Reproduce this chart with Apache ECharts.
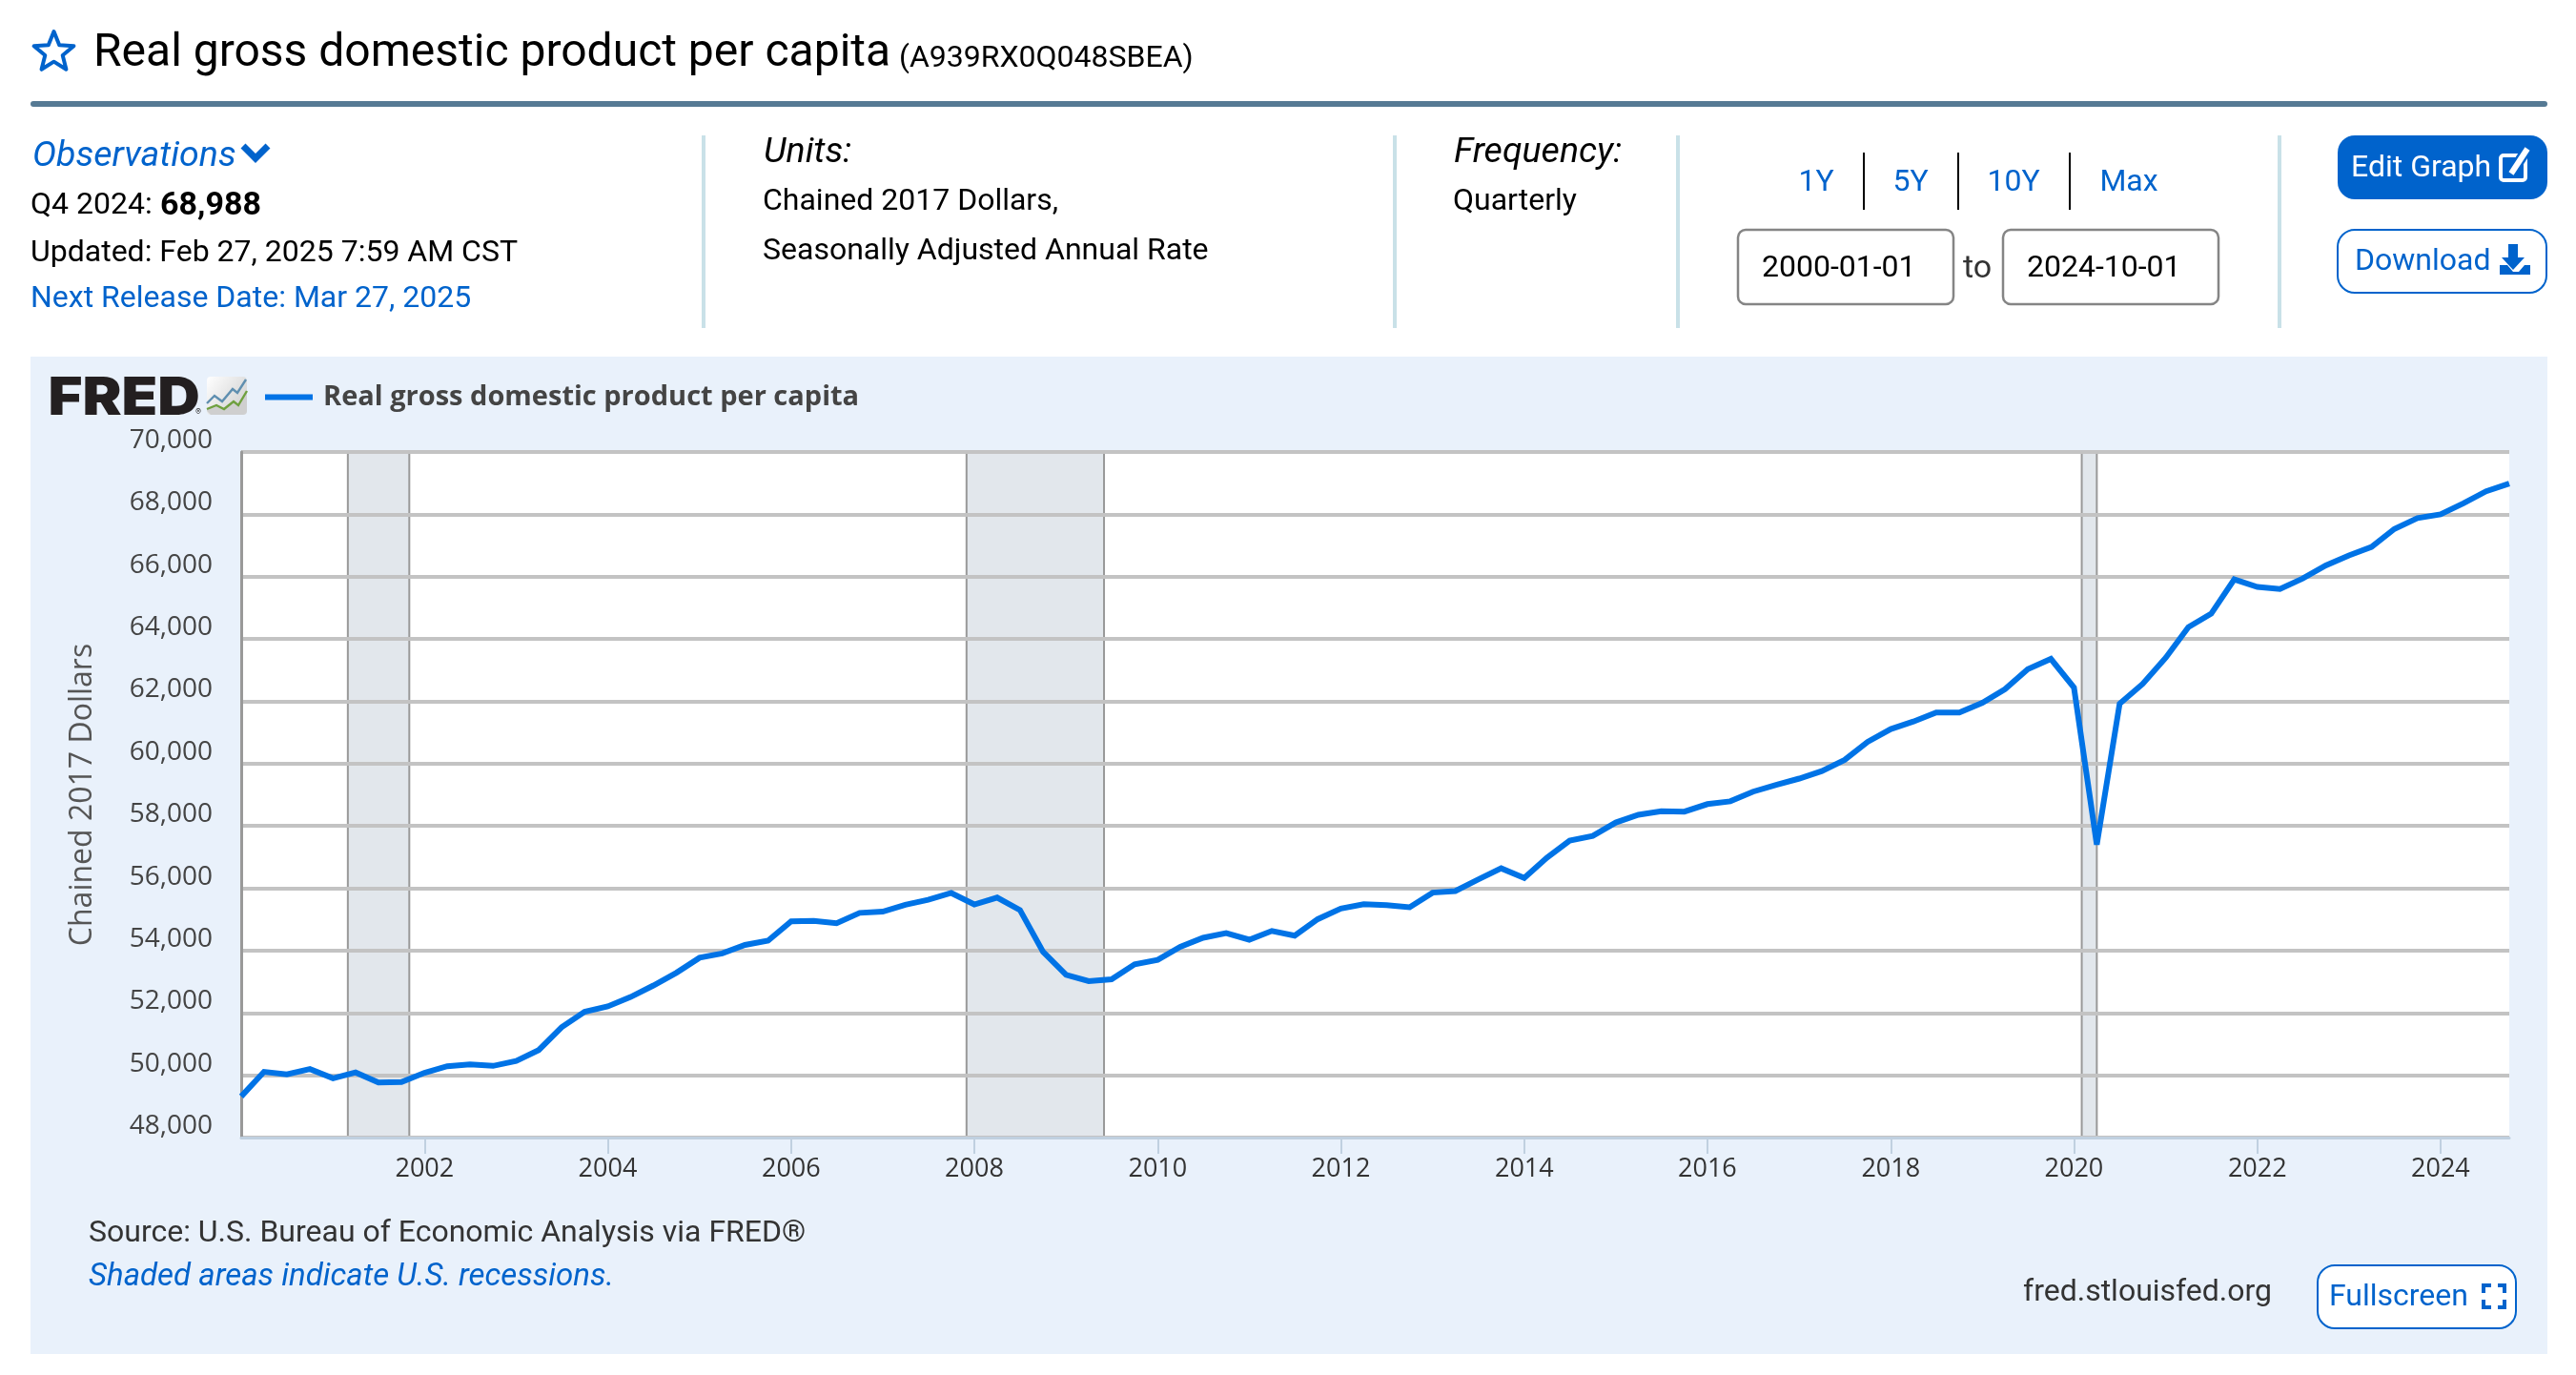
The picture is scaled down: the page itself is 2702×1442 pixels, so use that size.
<!DOCTYPE html>
<html><head><meta charset="utf-8">
<style>html,body{margin:0;padding:0;background:#fff}#c{width:2702px;height:1442px}</style>
<script src="https://cdn.jsdelivr.net/npm/echarts@6/dist/echarts.min.js"></script>
</head><body><div id="c"></div>
<script>
const seriesName = 'Real gross domestic product per capita';
const yAxisName = 'Chained 2017 Dollars';
const startYear = 2000;
// quarterly values 2000 Q1 .. 2024 Q4
const gdpPerCapita = [
49320,50110,50030,50200,49900,50090,49770,49780,50080,50290,50350,50300,50460,50810,51540,52040,52210,52510,52880,53290,
53770,53910,54180,54320,54940,54950,54880,55210,55250,55470,55630,55850,55480,55700,55300,53960,53220,53020,53080,53560,
53700,54120,54410,54560,54350,54630,54480,55010,55350,55490,55460,55390,55860,55910,56280,56640,56330,56980,57530,57680,
58110,58360,58470,58460,58700,58790,59100,59320,59520,59760,60120,60700,61110,61350,61640,61640,61950,62390,63030,63360,
62440,57400,61920,62560,63400,64380,64810,65910,65670,65600,65940,66360,66680,66950,67530,67880,68000,68350,68740,68988];
const recessions = [['2001-03-01','2001-11-01'],['2007-12-01','2009-06-01'],['2020-02-01','2020-04-01']];
const xTickYears = [2002,2004,2006,2008,2010,2012,2014,2016,2018,2020,2022,2024];
const yMin = 48000, yMax = 70000, yStep = 2000;
const titleText = 'Real gross domestic product per capita', seriesId = '(A939RX0Q048SBEA)';

const utc = s => { const [y,m,d] = s.split('-').map(Number); return Date.UTC(y,m-1,d); };
const quarterDate = i => Date.UTC(startYear + Math.floor(i/4), (i%4)*3, 1);
const points = gdpPerCapita.map((v,i)=>[quarterDate(i),v]);
const xTicks = xTickYears.map(y=>Date.UTC(y,0,1));

const BLUE='#0063cc', RF='Roboto', OS='"Open Sans"';
const txt=(x,y,t,size,fill,extra={})=>({type:'text',x,y,z:5,scaleX:extra.sx||1,style:{text:t,font:`${extra.fs||'normal'} ${extra.w||400} ${size}px ${extra.f||RF}`,fill,textAlign:extra.a||'left',textVerticalAlign:'middle',verticalAlign:'middle'}});
const rect=(x,y,w,h,fill,o={})=>({type:'rect',z:o.z===undefined?2:o.z,shape:{x,y,width:w,height:h,r:o.r||0},style:{fill,stroke:o.s||null,lineWidth:o.lw||0}});
const poly=(pts,stroke,lw,o={})=>({type:'polyline',z:6,shape:{points:pts},style:{stroke,lineWidth:lw,fill:null,lineCap:o.cap||'butt',lineJoin:o.join||'miter'}});
const fillPoly=(pts,fill)=>({type:'polygon',z:6,shape:{points:pts},style:{fill}});
const star=(cx,cy,R)=>{const p=[];for(let i=0;i<10;i++){const r=i%2?R*0.44:R,a=-Math.PI/2+i*Math.PI/5;p.push([cx+r*Math.cos(a),cy+r*Math.sin(a)]);}return p;};

const graphics=[
 rect(32,374,2640,1046,'#e9f1fb',{z:-100}),
 // header
 {type:'polygon',z:6,shape:{points:star(56.5,55,22)},style:{fill:'none',stroke:BLUE,lineWidth:4,lineJoin:'round'}},
 txt(98,57,titleText,48,'#000'),
 txt(943,62,seriesId,32,'#000'),
 rect(32,106,2640,6,'#567a94',{r:3}),
 // observations
 txt(34,165,'Observations',37.5,BLUE,{fs:'italic'}),
 poly([[255,153],[268,166],[281,153]],BLUE,7),
 txt(32,216,'Q4 2024:',32,'#000'),
 txt(168,216,'68,988',34,'#000',{w:700}),
 txt(32,266,'Updated: Feb 27, 2025 7:59 AM CST',32,'#000'),
 txt(32,314,'Next Release Date: Mar 27, 2025',32,BLUE),
 rect(736,142,4,202,'#c9e1e8'),
 txt(801,161,'Units:',37.5,'#000',{fs:'italic'}),
 txt(800,212,'Chained 2017 Dollars,',32,'#000'),
 txt(800,264,'Seasonally Adjusted Annual Rate',32,'#000'),
 rect(1461,142,4,202,'#c9e1e8'),
 txt(1525,161,'Frequency:',37.5,'#000',{fs:'italic'}),
 txt(1524,212,'Quarterly',32,'#000'),
 rect(1758,142,4,202,'#c9e1e8'),
 txt(1905,192,'1Y',32,BLUE,{a:'center'}),
 rect(1954,160,2,60,'#000'),
 txt(2004,192,'5Y',32,BLUE,{a:'center'}),
 rect(2053,160,2,60,'#000'),
 txt(2112,192,'10Y',32,BLUE,{a:'center'}),
 rect(2170,160,2,60,'#000'),
 txt(2233,192,'Max',32,BLUE,{a:'center'}),
 rect(1823,241,226,78,'#fff',{s:'#858585',lw:2.5,r:8}),
 txt(1848,282,'2000-01-01',32,'#000'),
 txt(2059,282,'to',34,'#333'),
 rect(2101,241,226,78,'#fff',{s:'#858585',lw:2.5,r:8}),
 txt(2126,282,'2024-10-01',32,'#000'),
 rect(2389,142,4,202,'#c9e1e8'),
 rect(2452,142,220,67,BLUE,{r:18}),
 txt(2466,177,'Edit Graph',32,'#fff'),
 rect(2623,163,26,26,'none',{s:'#fff',lw:4,r:3}),
 poly([[2634,182],[2651,156]],BLUE,11),
 poly([[2634,182],[2651,156]],'#fff',6),
 rect(2452,241,219,66,'#fff',{s:BLUE,lw:2,r:18}),
 txt(2470,275,'Download',32,BLUE),
 fillPoly([[2631,256],[2641,256],[2641,270],[2648,270],[2636,283],[2624,270],[2631,270]],BLUE),
 fillPoly([[2622,278],[2630,278],[2636,285],[2642,285],[2648,278],[2654,278],[2654,288],[2622,288]],BLUE),
 // logo
 txt(50.5,418,'FRED',55,'#231f20',{w:900,f:'Inter',sx:1.12}),
 txt(205,432,'®',9,'#333',{f:'Inter'}),
 {type:'rect',z:2,shape:{x:217,y:395,width:42,height:40,r:4},style:{fill:new echarts.graphic.LinearGradient(0,0,1,0.8,[{offset:0,color:'#ffffff'},{offset:1,color:'#d0d0d0'}])}},
 fillPoly([[217,429],[227,425],[235,429],[245,421],[250,425],[259,410],[259,431],[255,435],[221,435],[217,431]],'#cfcfcf'),
 poly([[217,429],[227,425],[235,429],[245,421],[250,425],[259,410]],'#6fa03f',2.4),
 poly([[217,423],[225,415],[233,421],[244,408],[249,412],[258,398]],'#5f8fb0',2.4),
 // footer
 txt(93,1294,'Source: U.S. Bureau of Economic Analysis via FRED®',32,'#333'),
 txt(93,1340,'Shaded areas indicate U.S. recessions.',33,BLUE,{fs:'italic'}),
 txt(2122,1356,'fred.stlouisfed.org',32,'#333'),
 rect(2431,1327,208,66,'#fff',{s:BLUE,lw:2,r:18}),
 txt(2443,1361,'Fullscreen',32,BLUE),
 poly([[2605,1356],[2605,1348],[2613,1348]],BLUE,4),poly([[2620,1348],[2627,1348],[2627,1356]],BLUE,4),
 poly([[2605,1363],[2605,1371],[2613,1371]],BLUE,4),poly([[2620,1371],[2627,1371],[2627,1363]],BLUE,4),
];

const chart=echarts.init(document.getElementById('c'),null,{renderer:'canvas',width:2702,height:1442});
chart.setOption({
 useUTC:true,animation:false,backgroundColor:'#fff',
 textStyle:{fontFamily:OS},
 grid:{show:true,z:-50,left:253,right:70,top:474,bottom:249,backgroundColor:'#fff',borderWidth:0,containLabel:false},
 legend:{show:true,left:278,top:402,itemWidth:50,itemHeight:6,itemGap:0,icon:'rect',padding:0,
   textStyle:{fontFamily:OS,fontWeight:700,fontSize:29,color:'#444',padding:[3,0,0,6]},data:[seriesName]},
 xAxis:{type:'value',min:quarterDate(0),max:quarterDate(99),
   splitLine:{show:false},
   axisLine:{show:true,onZero:false,lineStyle:{color:'#c0d0e0',width:3}},
   axisTick:{show:true,customValues:xTicks,length:17,lineStyle:{color:'#c0d0e0',width:2}},
   axisLabel:{customValues:xTicks,margin:20,fontSize:27,color:'#333',fontFamily:OS,hideOverlap:false,showMinLabel:true,showMaxLabel:true,
     formatter:v=>String(new Date(v).getUTCFullYear())}},
 yAxis:{type:'value',min:yMin,max:yMax,interval:yStep,name:yAxisName,nameLocation:'middle',nameGap:150,
   nameTextStyle:{fontFamily:OS,fontSize:32,color:'#555'},
   axisLine:{show:true,lineStyle:{color:'#999',width:3}},axisTick:{show:false},
   splitLine:{show:true,lineStyle:{color:'#c3c3c3',width:4}},
   axisLabel:{margin:30,fontSize:28,color:'#444',fontFamily:OS,verticalAlign:'bottom',lineHeight:24,
     formatter:v=>v.toLocaleString('en-US')}},
 series:[
  {type:'line',name:'recessions',data:[],silent:true,z:-10,
   markArea:{silent:true,z:-10,animation:false,itemStyle:{color:'#e2e7ec',borderColor:'#999',borderWidth:2},
     data:recessions.map(r=>[{xAxis:utc(r[0])},{xAxis:utc(r[1])}])}},
  {type:'line',name:seriesName,data:points,showSymbol:false,symbol:'none',z:3,
   lineStyle:{color:'#0073e6',width:6,join:'miter',miterLimit:4,cap:'butt'},itemStyle:{color:'#0073e6'}}
 ],
 graphic:{elements:graphics}
});
</script></body></html>
